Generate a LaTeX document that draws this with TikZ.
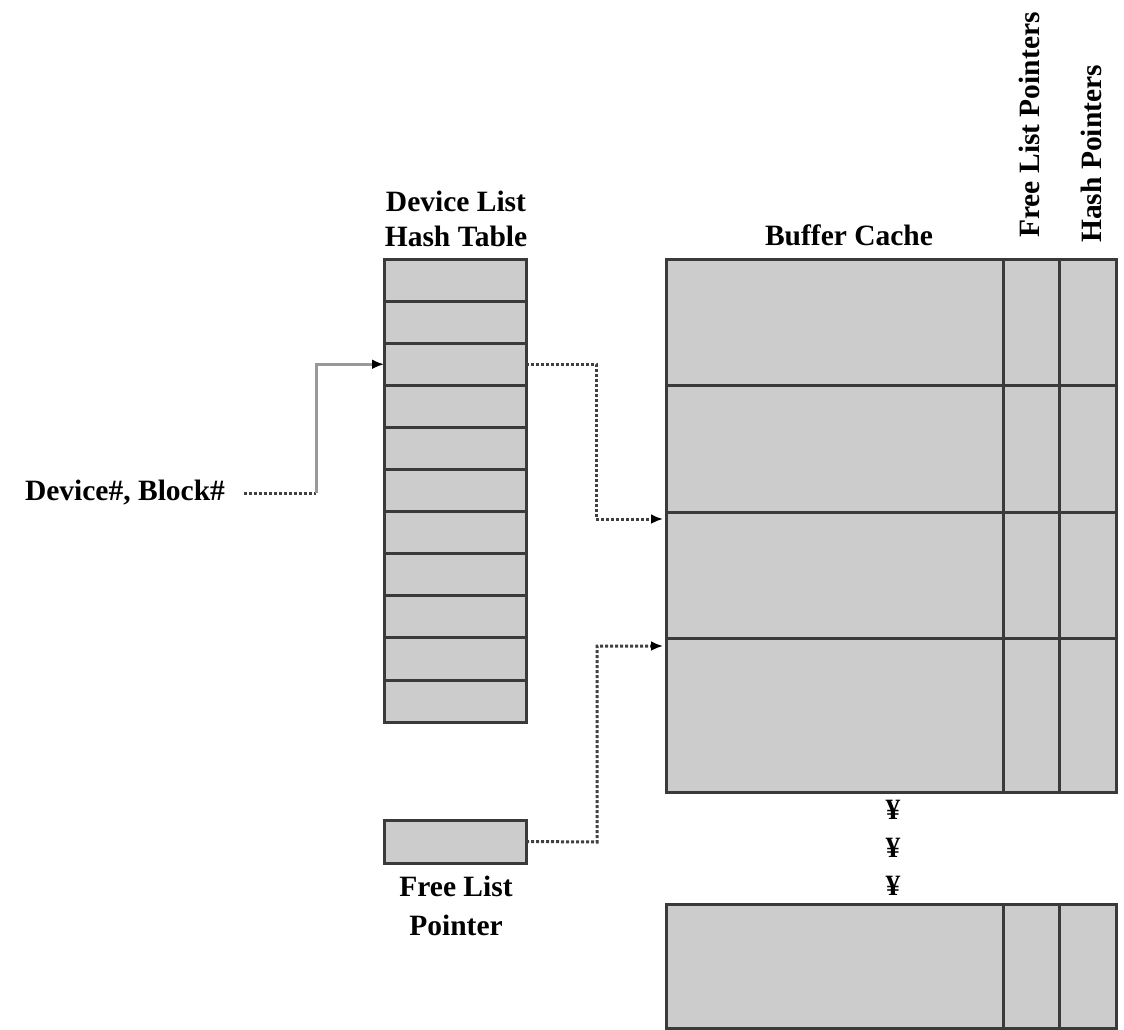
\documentclass[tikz,border=0pt]{standalone}
\usepackage{fontspec}
\setmainfont{Liberation Serif}
\usetikzlibrary{arrows.meta,calc}
\definecolor{cellfill}{HTML}{CCCCCC}
\definecolor{cellline}{HTML}{3A3A3A}
\definecolor{graylink}{HTML}{999999}
\begin{document}
\begin{tikzpicture}[x=1pt,y=-1pt,
  cellbox/.style={draw=cellline, line width=3pt, fill=cellfill, inner sep=0pt, outer sep=0pt, anchor=north west},
  hcell/.style={cellbox, minimum width=142pt, minimum height=42.1pt},
  lbl/.style={font=\fontsize{29.5}{35}\selectfont\bfseries, inner sep=0pt},
  dotlink/.style={draw=black!75, line width=3pt, dash pattern=on 3pt off 2pt},
  solidlink/.style={draw=graylink, line width=3pt},
  tip/.style={-{Latex[color=black,length=12pt,width=10pt]}}
]
\useasboundingbox (0,0) rectangle (1124,1030);

% Device list hash table
\foreach \i in {1,...,11}{
  \node[hcell] (h\i) at (384,{259+(\i-1)*42.1}) {};
}
\node[lbl, align=center] (htitle) at (456,219) {Device List\\Hash Table};

% Buffer cache
\foreach \i/\t/\h in {1/259/126, 2/385/127, 3/512/126, 4/638/154}{
  \node[cellbox, minimum width=337pt, minimum height=\h pt] (bm\i) at (666,\t) {};
  \node[cellbox, minimum width=56pt, minimum height=\h pt] (bf\i) at (1003,\t) {};
  \node[cellbox, minimum width=57pt, minimum height=\h pt] (bh\i) at (1059,\t) {};
}
\node[cellbox, minimum width=337pt, minimum height=124pt] (lm) at (666,904) {};
\node[cellbox, minimum width=56pt, minimum height=124pt] (lf) at (1003,904) {};
\node[cellbox, minimum width=57pt, minimum height=124pt] (lh) at (1059,904) {};

\node[lbl] (bctitle) at (849,235) {Buffer Cache};
\node[lbl, rotate=90] (flp) at (1029,125) {Free List Pointers};
\node[lbl, rotate=90] (hp) at (1091,154) {Hash Pointers};

% ellipsis marks
\node[lbl] (e1) at (893,810) {¥};
\node[lbl] (e2) at (893,848) {¥};
\node[lbl] (e3) at (893,886) {¥};

% free list pointer
\node[cellbox, minimum width=142pt, minimum height=43pt] (fp) at (384,820) {};
\node[lbl, align=center, font=\fontsize{29.5}{39}\selectfont\bfseries] (fptitle) at (456,906) {Free List\\Pointer};

% input
\node[lbl] (dev) at (125,493) {Device\#, Block\#};

% connectors
\coordinate (k1) at (316,493);
\coordinate (t1) at (663,519);
\coordinate (t2) at (663,646);
\draw[dotlink] (244,493) -- (k1);
\draw[solidlink, tip] (k1) |- (h3.west);
\draw[dotlink, tip] (h3.east) -- (596,{259+2.5*42.1}) |- (t1);
\draw[dotlink, tip] (fp.east) -- (597,842) |- (t2);
\end{tikzpicture}
\end{document}
